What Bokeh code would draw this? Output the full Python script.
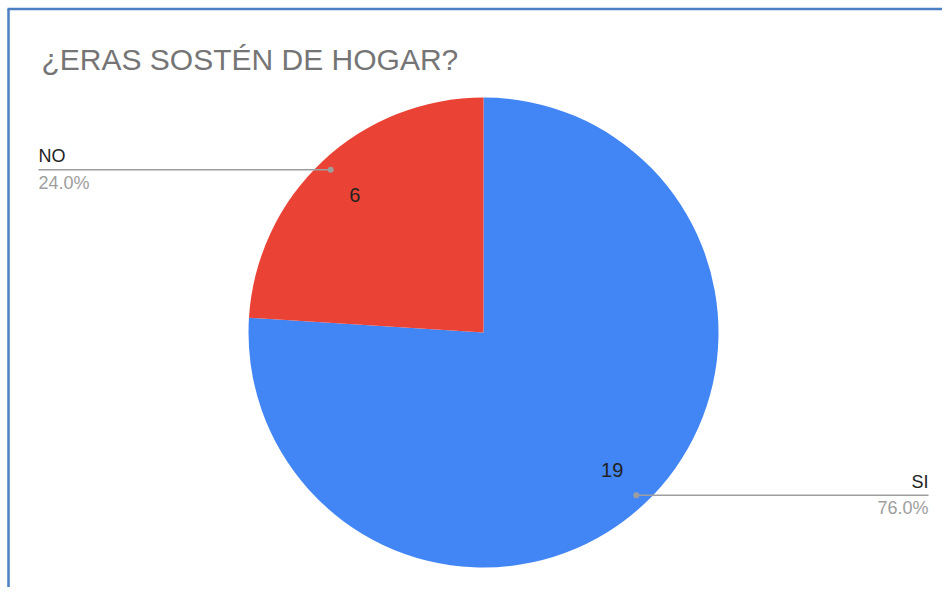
import math
from bokeh.plotting import figure
from bokeh.models import Range1d
from bokeh.core.properties import value
from bokeh.embed import file_html
from bokeh.resources import INLINE

title_text = "¿ERAS SOSTÉN DE HOGAR?"
categories = ["SI", "NO"]
counts = [19, 6]
colors = ["#4285f4", "#ea4335"]

FONT = "Liberation Sans"
W, H = 942, 587
p = figure(width=W, height=H, x_range=Range1d(0, W), y_range=Range1d(0, H),
           output_backend="svg", toolbar_location=None, tools="", min_border=0,
           x_axis_location=None, y_axis_location=None)
p.grid.visible = False
p.outline_line_color = None
p.background_fill_color = "white"
p.border_fill_color = "white"

# chart frame border (top and left visible)
border_col = "#4a7fc1"
p.segment(x0=[7], y0=[H - 8.5], x1=[W], y1=[H - 8.5], line_color=border_col, line_width=2.5)
p.segment(x0=[8], y0=[0], x1=[8], y1=[H - 8.5], line_color=border_col, line_width=2.5)

# title
p.text(x=[41], y=[H - 59], text=[title_text], text_font=value(FONT), text_font_size="30px",
       text_color="#757575", text_align="left", text_baseline="alphabetic")

cx, cy, r = 483, H - 332, 235
total = sum(counts)
cum = 0
starts, ends, mids = [], [], []
for c in counts:
    s_cw = cum / total * 2 * math.pi
    e_cw = (cum + c) / total * 2 * math.pi
    starts.append(math.pi / 2 - e_cw)
    ends.append(math.pi / 2 - s_cw)
    mids.append(math.pi / 2 - (s_cw + e_cw) / 2)
    cum += c

p.wedge(x=[cx] * len(counts), y=[cy] * len(counts), radius=r, start_angle=starts,
        end_angle=ends, fill_color=colors, line_color=None)

# inner value labels
lx = [cx + 0.8 * r * math.cos(m) for m in mids]
ly = [cy + 0.8 * r * math.sin(m) for m in mids]
p.text(x=lx, y=ly, text=[str(c) for c in counts], text_font=value(FONT), text_font_size="20px",
       text_color="#222222", text_align="center", text_baseline="middle")

# leader lines and outer labels
for cat, c, m in zip(categories, counts, mids):
    dx = cx + 0.95 * r * math.cos(m)
    dy = cy + 0.95 * r * math.sin(m)
    if math.cos(m) < 0:
        ex, align = 38, "left"
    else:
        ex, align = 928, "right"
    p.segment(x0=[dx], y0=[dy], x1=[ex], y1=[dy], line_color="#9e9e9e", line_width=1.5)
    p.scatter(x=[dx], y=[dy], size=6, fill_color="#9e9e9e", line_color=None)
    p.text(x=[ex], y=[dy + 13.5], text=[cat], text_font=value(FONT), text_font_size="18px",
           text_color="#222222", text_align=align, text_baseline="alphabetic")
    pct = "%.1f%%" % (100.0 * c / total)
    p.text(x=[ex], y=[dy - 3], text=[pct], text_font=value(FONT), text_font_size="18px",
           text_color="#9e9e9e", text_align=align, text_baseline="top")

open("out.html", "w").write(file_html(p, INLINE))
